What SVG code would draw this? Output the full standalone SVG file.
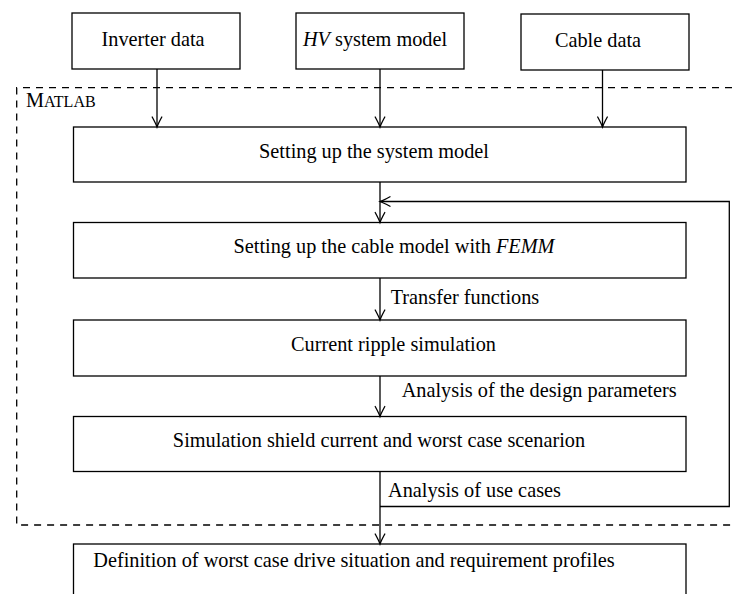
<svg xmlns="http://www.w3.org/2000/svg" width="735" height="594" viewBox="0 0 735 594">
<style>
.box{fill:#fff;stroke:#000;stroke-width:1.3}
.t{font-family:"Liberation Serif","Times New Roman",serif;font-size:20.3px;fill:#000}
.c{text-anchor:middle}
.ln{fill:none;stroke:#000;stroke-width:1.3}
.dash{fill:none;stroke:#000;stroke-width:1.3;stroke-dasharray:7 6}
</style>
<defs>
<marker id="ah" markerUnits="userSpaceOnUse" markerWidth="14" markerHeight="14" viewBox="-12 -7 14 14" refX="0" refY="0" orient="auto">
<path d="M-10,-4.8 Q-3,-1 0,0 Q-3,1 -10,4.8" fill="none" stroke="#000" stroke-width="1.3" stroke-linecap="round"/>
</marker>
</defs>
<g id="matlab">
<path class="dash" d="M745,87.7 H16.7 V525 H745"/>
<text class="t" x="26" y="107.3">M<tspan font-size="16px">ATLAB</tspan></text>
</g>
<g id="inverter">
<rect class="box" x="72" y="13" width="168" height="56"/>
<text class="t c" x="153" y="45.5">Inverter data</text>
</g>
<g id="hv">
<rect class="box" x="296" y="13" width="168" height="56"/>
<text class="t c" x="375" y="45.5"><tspan font-style="italic">HV</tspan> system model</text>
</g>
<g id="cable">
<rect class="box" x="521" y="14" width="168" height="56"/>
<text class="t c" x="598" y="46.5">Cable data</text>
</g>
<g id="system">
<rect class="box" x="73.5" y="127" width="612.5" height="55"/>
<text class="t c" x="374" y="157.5">Setting up the system model</text>
</g>
<g id="femm">
<rect class="box" x="73.5" y="222.5" width="612.5" height="55.5"/>
<text class="t c" x="394" y="253">Setting up the cable model with <tspan font-style="italic">FEMM</tspan></text>
</g>
<g id="ripple">
<rect class="box" x="73.5" y="320" width="612.5" height="56"/>
<text class="t c" x="393.5" y="350.5">Current ripple simulation</text>
</g>
<g id="shield">
<rect class="box" x="73.5" y="416.5" width="612.5" height="55"/>
<text class="t c" x="379" y="447">Simulation shield current and worst case scenarion</text>
</g>
<g id="definition">
<rect class="box" x="73.5" y="544" width="612.5" height="70"/>
<text class="t c" x="354" y="566.7">Definition of worst case drive situation and requirement profiles</text>
</g>
<g id="connectors">
<path class="ln" d="M157,69 V127" marker-end="url(#ah)"/>
<path class="ln" d="M380,69 V127" marker-end="url(#ah)"/>
<path class="ln" d="M602.5,70 V127" marker-end="url(#ah)"/>
<path class="ln" d="M380,182 V222.5" marker-end="url(#ah)"/>
<path class="ln" d="M380,278 V320" marker-end="url(#ah)"/>
<path class="ln" d="M380,376 V416.5" marker-end="url(#ah)"/>
<path class="ln" d="M380,471.5 V544" marker-end="url(#ah)"/>
<path class="ln" d="M380,506.5 H729.3 V201.5 H380" marker-end="url(#ah)"/>
<text class="t" x="390.7" y="304">Transfer functions</text>
<text class="t" x="401.7" y="397">Analysis of the design parameters</text>
<text class="t" x="388" y="496.7">Analysis of use cases</text>
</g>
</svg>
